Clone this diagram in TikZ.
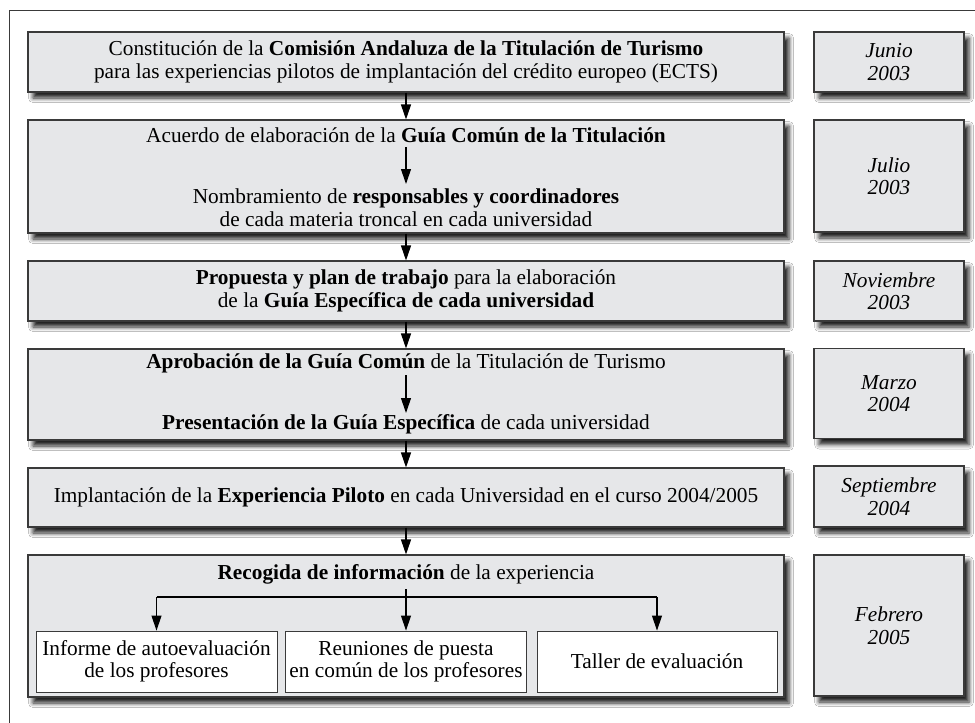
\documentclass[tikz,border=0pt]{standalone}
\usepackage{fontspec}
\setmainfont{Liberation Serif}
\usetikzlibrary{arrows.meta,shadows.blur}
\definecolor{boxgray}{HTML}{E6E7E9}
\definecolor{edgegray}{HTML}{3A3A3A}
\begin{document}
\begin{tikzpicture}[x=1pt,y=-1pt,
  txt/.style={font=\fontsize{21.3}{22.5}\selectfont, align=center, inner sep=0pt},
  shadowed/.style={blur shadow={shadow xshift=5pt, shadow yshift=-6pt, shadow blur radius=4.5pt, shadow opacity=88}},
  mainbox/.style={draw=edgegray, line width=1.1pt, fill=boxgray, minimum width=756pt, inner sep=0pt, shadowed, txt},
  datebox/.style={draw=edgegray, line width=1.1pt, fill=boxgray, minimum width=150pt, inner sep=0pt, shadowed, txt, font=\fontsize{21.3}{22.5}\selectfont\itshape},
  subbox/.style={draw=edgegray, line width=0.9pt, fill=white, inner sep=0pt, minimum height=61pt, txt},
  arr/.style={line width=1.1pt, -{Triangle[length=15pt,width=10pt]}},
  ln/.style={line width=1.1pt}]
\useasboundingbox (0,0) rectangle (975,723);
\fill[white] (0,0) rectangle (975,723);
% outer frame (clipped on right and bottom)
\draw[line width=1pt, edgegray] (9,723) -- (9,10) -- (975,10);

% main boxes
\node[mainbox, minimum height=60pt] (b1) at (406,62) {Constitución de la \textbf{Comisión Andaluza de la Titulación de Turismo}\\para las experiencias pilotos de implantación del crédito europeo (ECTS)};
\node[mainbox, minimum height=113pt] (b2) at (406,176.5) {};
\node[mainbox, minimum height=60pt] (b3) at (406,291) {\textbf{Propuesta y plan de trabajo} para la elaboración\\de la \textbf{Guía Específica de cada universidad}};
\node[mainbox, minimum height=91pt] (b4) at (406,394.5) {};
\node[mainbox, minimum height=59pt] (b5) at (406,497.5) {Implantación de la \textbf{Experiencia Piloto} en cada Universidad en el curso 2004/2005};
\node[mainbox, minimum height=142pt] (b6) at (406,626) {};

% dates
\node[datebox, minimum height=60pt] (d1) at (889,62) {Junio\\2003};
\node[datebox, minimum height=112pt] (d2) at (889,176) {Julio\\2003};
\node[datebox, minimum height=60pt] (d3) at (889,291) {Noviembre\\2003};
\node[datebox, minimum height=90pt] (d4) at (889,393.5) {Marzo\\2004};
\node[datebox, minimum height=61pt] (d5) at (889,496.5) {Septiembre\\2004};
\node[datebox, minimum height=141pt] (d6) at (889,625.5) {Febrero\\2005};

% inner texts of box 2
\node[txt] (t2a) at (406,135) {Acuerdo de elaboración de la \textbf{Guía Común de la Titulación}};
\node[txt] (t2b) at (406,207.5) {Nombramiento de \textbf{responsables y coordinadores}\\de cada materia troncal en cada universidad};
\draw[arr] (t2a.south |- 0,147) -- (t2b.north |- 0,184);

% inner texts of box 4
\node[txt] (t4a) at (406,363) {\textbf{Aprobación de la Guía Común} de la Titulación de Turismo};
\node[txt] (t4b) at (406,424) {\textbf{Presentación de la Guía Específica} de cada universidad};
\draw[arr] (t4a.south |- 0,375) -- (t4b.north |- 0,413);

% box 6 contents
\node[txt] (r) at (406,574) {\textbf{Recogida de información} de la experiencia};
\node[subbox, minimum width=241pt] (sa) at (156.5,661.5) {Informe de autoevaluación\\de los profesores};
\node[subbox, minimum width=241pt] (sb) at (406,661.5) {Reuniones de puesta\\en común de los profesores};
\node[subbox, minimum width=240pt] (sc) at (657,661.5) {Taller de evaluación};
\coordinate (split) at (406,597);
\coordinate (rtop) at (406,589);
\draw[ln] (sa.north |- split) -- (sc.north |- split);
\draw[arr] (rtop) -- (sb.north);
\draw[arr] (sa.north |- split) -- (sa.north);
\draw[arr] (sc.north |- split) -- (sc.north);

% connectors between main boxes
\draw[arr] (b1.south) -- (b2.north);
\draw[arr] (b2.south) -- (b3.north);
\draw[arr] (b3.south) -- (b4.north);
\draw[arr] (b4.south) -- (b5.north);
\draw[arr] (b5.south) -- (b6.north);
\end{tikzpicture}
\end{document}
